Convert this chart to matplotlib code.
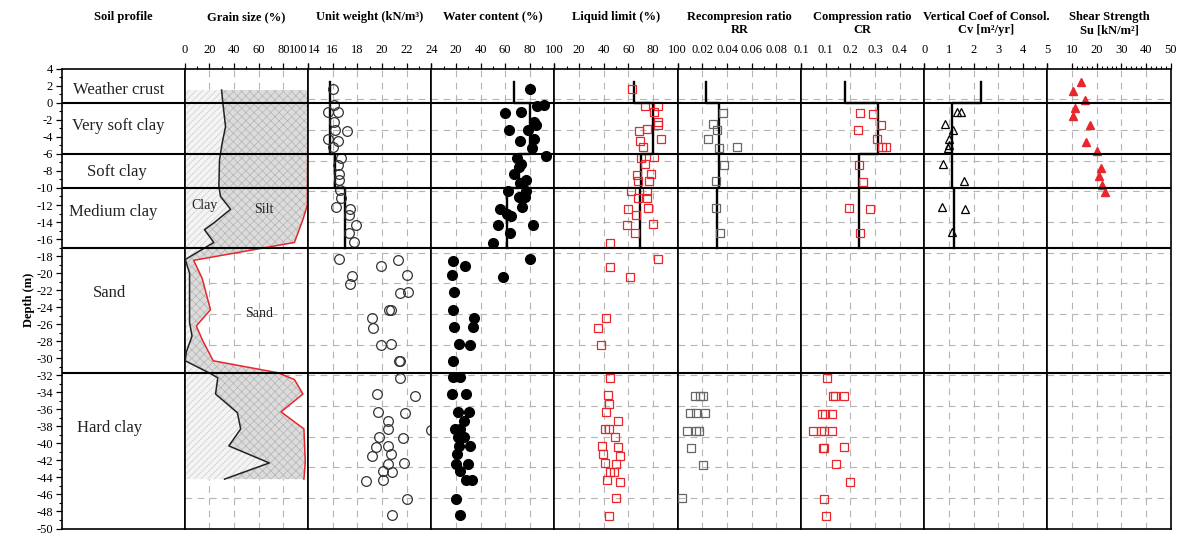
import matplotlib
matplotlib.use("Agg")
import matplotlib.pyplot as plt
import numpy as np

plt.rcParams["font.family"] = ["Liberation Serif", "DejaVu Serif"]
plt.rcParams["axes.unicode_minus"] = False
plt.rcParams["hatch.linewidth"] = 0.5

# --- Soil profile ---------------------------------------------------------
LAYER_NAMES = ["Weather crust", "Very soft clay", "Soft clay", "Medium clay", "Sand", "Hard clay"]
LAYER_LABEL_DEPTH = [1.5, -2.7, -8.1, -12.8, -22.3, -38.2]
LAYER_BOUNDS = [0, -6, -10, -17, -31.7]

# layer means drawn as step lines (top 4 layers)
MEAN_TOP = [2.5, 0, -6, -10]
MEAN_BOT = [0, -6, -10, -17]

# --- Grain size (cumulative %) ---------------------------------------------
CLAY_DEPTH = [1.5, 0, -2.8, -4.7, -6.7, -9.8, -11.0, -12.5, -14.1, -14.9, -16.4,
              -18.4, -20.0, -25.8, -27.4, -29.3, -30.3, -31.8, -32.3, -34.2, -36.4,
              -38.3, -40.3, -42.3, -44.2]
CLAY_PCT = [29.9, 30.9, 33.1, 30.4, 28.2, 27.7, 29.0, 37.2, 23.6, 16.0, 23.6,
            0.4, 3.9, 3.9, 5.9, 1.2, 0.4, 20.9, 26.8, 25.0, 42.7,
            45.4, 35.8, 68.6, 32.3]
FINES_DEPTH = [1.5, -12.0, -13.7, -16.4, -18.5, -20.6, -24.3, -26.2, -27.8, -30.3,
               -31.7, -32.5, -34.2, -36.3, -38.3, -42.2, -44.2]
FINES_PCT = [100, 99.5, 95.9, 89.0, 7.2, 14.1, 20.9, 9.4, 14.1, 23.1,
             75.4, 89.0, 95.9, 78.1, 96.7, 97.8, 96.7]

# --- Unit weight (kN/m3) ----------------------------------------------------
UW_DEPTH = [1.6, -0.2, -1.1, -1.1, -2.3, -3.2, -3.3, -4.3, -4.5, -5.2, -6.5, -7.3,
            -8.3, -9.1, -10.2, -11.2, -12.2, -12.5, -13.2, -14.4, -15.3, -16.4,
            -18.3, -18.5, -19.2, -20.2, -20.3, -21.3, -22.3, -22.2, -24.3, -24.3,
            -25.3, -26.4, -28.5, -28.3, -30.3, -30.3, -32.3, -34.2, -34.4, -36.3,
            -36.4, -37.4, -38.3, -38.4, -39.2, -39.4, -40.4, -40.3, -41.3, -41.5,
            -42.3, -42.4, -43.3, -43.4, -44.4, -44.3, -46.5, -48.4]
UW = [16.0, 16.1, 15.6, 16.4, 16.1, 16.2, 17.2, 15.6, 16.4, 16.0, 16.7, 16.4,
      16.5, 16.5, 16.6, 16.7, 16.3, 17.4, 17.3, 17.9, 17.3, 17.7,
      16.5, 21.3, 19.9, 22.0, 17.6, 17.4, 21.5, 22.1, 20.6, 20.7,
      19.2, 19.3, 19.9, 20.7, 21.5, 21.4, 21.5, 19.6, 22.7, 19.7,
      21.9, 20.5, 20.5, 24.0, 19.8, 21.7, 19.5, 20.5, 20.7, 19.2,
      21.8, 20.5, 20.1, 20.8, 18.7, 20.1, 22.0, 20.8]
UW_MEAN = [15.8, 15.8, 16.2, 17.0]

# --- Water content (%) ------------------------------------------------------
WC_DEPTH = [1.6, -0.4, -0.2, -1.2, -1.1, -2.2, -2.6, -3.2, -3.2, -4.5, -4.3, -5.3,
            -6.3, -6.5, -7.2, -7.5, -8.4, -9.1, -9.4, -10.4, -10.3, -11.1, -11.1,
            -12.2, -12.5, -13.1, -13.3, -14.4, -14.3, -15.3, -16.5,
            -18.3, -18.6, -19.2, -20.2, -20.4, -22.2, -24.3, -25.3, -26.3, -26.3,
            -28.3, -28.4, -30.3, -32.2, -32.2, -34.2, -34.2, -36.3, -36.3, -37.4,
            -38.3, -38.3, -39.3, -39.3, -40.3, -40.3, -41.3, -42.4, -42.4, -43.3,
            -44.3, -44.3, -46.5, -48.4]
WC = [80.0, 85.9, 91.4, 59.9, 72.9, 83.7, 85.3, 62.9, 78.9, 72.3, 83.7, 81.6,
      93.2, 69.6, 72.9, 71.5, 66.9, 77.0, 72.3, 62.0, 77.0, 71.5, 76.1,
      73.4, 56.1, 61.5, 64.7, 53.9, 82.4, 64.2, 49.8,
      80.5, 17.8, 27.8, 16.7, 58.5, 18.6, 17.3, 34.6, 18.1, 33.5,
      22.6, 31.1, 17.8, 17.8, 23.5, 16.7, 28.3, 21.8, 30.8, 26.2,
      19.1, 23.5, 21.8, 26.2, 22.6, 31.1, 21.3, 20.0, 29.7, 23.5,
      28.3, 32.7, 20.5, 23.5]
WC_MEAN = [67.4, 80.0, 71.5, 61.5]

# --- Liquid limit (%) -------------------------------------------------------
LL_DEPTH = [1.6, -0.35, -0.35, -1.1, -2.3, -2.6, -3.1, -3.3, -4.3, -4.5, -5.2,
            -6.4, -6.5, -7.2, -8.3, -8.5, -9.2, -9.2, -10.4, -10.3, -11.2, -11.2,
            -12.3, -12.5, -13.2, -14.4, -14.2, -15.3, -16.5,
            -18.3, -19.3, -20.4, -25.3, -26.4, -28.4, -32.3, -34.3, -35.4, -36.3,
            -37.4, -38.3, -38.3, -39.2, -40.3, -40.4, -41.3, -41.5, -42.3, -42.4,
            -43.4, -43.4, -44.3, -44.5, -46.4, -48.5]
LL = [62.6, 73.3, 83.6, 80.8, 83.6, 84.4, 74.7, 68.7, 86.8, 69.3, 71.5,
      80.8, 70.1, 73.3, 78.2, 66.6, 76.8, 67.9, 62.0, 74.7, 67.9, 74.7,
      76.0, 59.8, 66.0, 58.8, 80.0, 65.2, 45.3,
      83.6, 45.0, 61.4, 41.8, 35.1, 37.8, 45.0, 43.7, 44.5, 41.8,
      51.3, 41.2, 44.0, 49.3, 38.3, 51.3, 39.6, 53.4, 41.0, 49.9,
      45.3, 48.0, 42.6, 53.4, 49.9, 44.0]
LL_MEAN = [64.7, 80.0, 70.1, 69.5]

# --- Recompression ratio RR -------------------------------------------------
RR_DEPTH = [-1.2, -2.5, -3.2, -4.3, -5.3, -5.2, -7.3, -9.2, -12.4, -15.3,
            -34.4, -34.4, -34.4, -36.4, -36.4, -36.4, -38.5, -38.5, -38.5,
            -40.6, -42.5, -46.4]
RR = [0.0367, 0.0289, 0.0316, 0.0246, 0.0335, 0.0483, 0.0375, 0.0313, 0.0308, 0.0343,
      0.0140, 0.0180, 0.0208, 0.0100, 0.0146, 0.0219, 0.0078, 0.0151, 0.0173,
      0.0111, 0.0205, 0.0032]
RR_MEAN = [0.0227, 0.0335, 0.0335, 0.0316]

# --- Compression ratio CR ---------------------------------------------------
CR_DEPTH = [-1.2, -1.3, -2.6, -3.2, -4.3, -5.2, -5.2, -7.3, -9.3, -12.4, -12.5, -15.3,
            -32.3, -34.4, -34.4, -34.4, -36.5, -36.5, -36.5, -38.5, -38.5, -38.5,
            -38.5, -40.5, -40.5, -40.4, -42.4, -44.5, -46.5, -48.5]
CR = [0.240, 0.291, 0.325, 0.230, 0.308, 0.328, 0.346, 0.237, 0.251, 0.196, 0.280, 0.240,
      0.106, 0.129, 0.139, 0.174, 0.085, 0.099, 0.125, 0.048, 0.081, 0.095,
      0.125, 0.088, 0.092, 0.174, 0.142, 0.200, 0.095, 0.102]
CR_MEAN = [0.179, 0.312, 0.234, 0.234]

# --- Coefficient of consolidation Cv (m2/yr) --------------------------------
CV_DEPTH = [-1.1, -1.1, -2.5, -3.2, -4.3, -5.0, -5.3, -7.2, -9.2, -12.2, -12.5, -15.2]
CV = [1.35, 1.49, 0.85, 1.15, 1.01, 0.99, 0.95, 0.75, 1.60, 0.72, 1.66, 1.12]
CV_MEAN = [2.3, 1.11, 1.11, 1.19]

# --- Undrained shear strength Su (kN/m2) ------------------------------------
SU_DEPTH = [2.5, 1.4, 0.35, -0.55, -1.5, -2.6, -4.6, -5.6, -7.6, -8.6, -9.6, -10.5]
SU = [13.7, 10.3, 15.4, 11.0, 10.5, 17.2, 15.7, 19.9, 21.8, 20.8, 22.2, 23.5]

# --- Panel headers ----------------------------------------------------------
HEADERS = ["Soil profile", "Grain size (%)", "Unit weight (kN/m\u00b3)", "Water content (%)",
           "Liquid limit (%)", "Recompresion ratio\nRR", "Compression ratio\nCR",
           "Vertical Coef of Consol.\nCv [m\u00b2/yr]", "Shear Strength\nSu [kN/m\u00b2]"]

RED = "#e8262b"
GRID = "#b5b5b5"

W, H = 1182, 536
fig = plt.figure(figsize=(W / 100, H / 100), dpi=100)

left_px, right_px = 61.5, 1170.7
top_px, bot_px = 68.8, 528.5
pw = (right_px - left_px) / 9

axes = []
for i in range(9):
    ax = fig.add_axes([(left_px + i * pw) / W, (H - bot_px) / H, pw / W, (bot_px - top_px) / H],
                      sharey=axes[0] if axes else None)
    axes.append(ax)

axes[0].set_ylim(-50, 4)


def setup_panel(ax, lim, major, minor, labels):
    ax.set_xlim(*lim)
    ax.xaxis.tick_top()
    ax.set_xticks(major)
    ax.set_xticklabels(labels)
    ax.set_xticks(minor, minor=True)
    ax.tick_params(axis="x", which="major", direction="out", length=4, width=0.9,
                   pad=5, labelsize=9)
    ax.tick_params(axis="x", which="minor", direction="out", length=2.5, width=0.8)
    ax.tick_params(axis="y", left=False, labelleft=False, which="both")
    # dashed grid
    for x in major[1:-1]:
        ax.axvline(x, color=GRID, lw=0.8, ls=(0, (6, 5)), zorder=0)
    for y in np.linspace(-50, 4, 16)[1:-1]:
        ax.axhline(y, color=GRID, lw=0.8, ls=(0, (6, 5)), zorder=0)


def mean_line(ax, means):
    xs, ys = [], []
    for m, t, b in zip(means, MEAN_TOP, MEAN_BOT):
        xs += [m, m]
        ys += [t, b]
    ax.plot(xs, ys, color="black", lw=1.7, zorder=3)


# profile panel
ax0 = axes[0]
ax0.set_xlim(0, 1)
ax0.set_xticks([])
ax0.set_yticks(np.arange(-50, 5, 2))
ax0.set_yticks(np.arange(-50, 5, 1), minor=True)
ax0.tick_params(axis="y", which="major", direction="out", length=4, width=0.9, labelsize=9, pad=2)
ax0.tick_params(axis="y", which="minor", direction="out", length=2.5, width=0.8)
label_x = [0.46, 0.46, 0.45, 0.42, 0.39, 0.39]
for name, d, lx in zip(LAYER_NAMES, LAYER_LABEL_DEPTH, label_x):
    ax0.text(lx, d, name, ha="center", va="center", fontsize=12, color="#222222")

# grain size
ax = axes[1]
setup_panel(ax, (0, 100), [0, 20, 40, 60, 80, 100], [10, 30, 50, 70, 90],
            ["0", "20", "40", "60", "80", "100"])
ax.xaxis.get_major_ticks()[-1].label2.set_ha("right")
ax.fill([0] + CLAY_PCT + [0], [CLAY_DEPTH[0]] + CLAY_DEPTH + [CLAY_DEPTH[-1]],
        facecolor="#f4f4f4", edgecolor="#cdcdcd", hatch="/////", lw=0, zorder=1)
ax.fill(CLAY_PCT + FINES_PCT[::-1], CLAY_DEPTH + FINES_DEPTH[::-1],
        facecolor="#dcdcdc", edgecolor="#b4b4b4", hatch="xxxx", lw=0, zorder=1)
ax.plot(CLAY_PCT, CLAY_DEPTH, color="#222222", lw=1.1, zorder=3)
ax.plot(FINES_PCT, FINES_DEPTH, color=RED, lw=1.1, zorder=3)
ax.text(16, -12.1, "Clay", ha="center", va="center", fontsize=10, color="#222222", zorder=4)
ax.text(64, -12.5, "Silt", ha="center", va="center", fontsize=10, color="#222222", zorder=4)
ax.text(60, -24.7, "Sand", ha="center", va="center", fontsize=10, color="#222222", zorder=4)

# unit weight
ax = axes[2]
setup_panel(ax, (14, 24), [14, 16, 18, 20, 22, 24], [15, 17, 19, 21, 23],
            ["14", "16", "18", "20", "22", "24"])
ax.xaxis.get_major_ticks()[0].label2.set_ha("left")
ax.plot(UW, UW_DEPTH, ls="none", marker="o", mfc="none", mec="#333333", ms=7, mew=0.9, zorder=4)
mean_line(ax, UW_MEAN)

# water content
ax = axes[3]
setup_panel(ax, (0, 100), [0, 20, 40, 60, 80, 100], [10, 30, 50, 70, 90],
            ["", "20", "40", "60", "80", "100"])
ax.plot(WC, WC_DEPTH, ls="none", marker="o", color="black", ms=7, zorder=4)
mean_line(ax, WC_MEAN)

# liquid limit
ax = axes[4]
setup_panel(ax, (0, 100), [0, 20, 40, 60, 80, 100], [10, 30, 50, 70, 90],
            ["", "20", "40", "60", "80", "100"])
ax.plot(LL, LL_DEPTH, ls="none", marker="s", mfc="none", mec=RED, ms=6, mew=0.9, zorder=4)
mean_line(ax, LL_MEAN)

# recompression ratio
ax = axes[5]
setup_panel(ax, (0, 0.1), [0, 0.02, 0.04, 0.06, 0.08, 0.1], [0.01, 0.03, 0.05, 0.07, 0.09],
            ["", "0.02", "0.04", "0.06", "0.08", "0.1"])
ax.plot(RR, RR_DEPTH, ls="none", marker="s", mfc="none", mec="#666666", ms=6, mew=0.9, zorder=4)
mean_line(ax, RR_MEAN)

# compression ratio
ax = axes[6]
setup_panel(ax, (0, 0.5), [0, 0.1, 0.2, 0.3, 0.4, 0.5], [0.05, 0.15, 0.25, 0.35, 0.45],
            ["", "0.1", "0.2", "0.3", "0.4", ""])
ax.plot(CR, CR_DEPTH, ls="none", marker="s", mfc="none", mec=RED, ms=6, mew=0.9, zorder=4)
mean_line(ax, CR_MEAN)

# Cv
ax = axes[7]
setup_panel(ax, (0, 5), [0, 1, 2, 3, 4, 5], [0.5, 1.5, 2.5, 3.5, 4.5],
            ["0", "1", "2", "3", "4", "5"])
ax.plot(CV, CV_DEPTH, ls="none", marker="^", mfc="none", mec="black", ms=6, mew=0.9, zorder=4)
mean_line(ax, CV_MEAN)

# Su
ax = axes[8]
setup_panel(ax, (0, 50), [0, 10, 20, 30, 40, 50], [v for v in range(12, 50, 2) if v % 10],
            ["", "10", "20", "30", "40", "50"])
ax.plot(SU, SU_DEPTH, ls="none", marker="^", color=RED, ms=6, zorder=4)

# frames and layer boundaries
for ax in axes:
    for sp in ax.spines.values():
        sp.set_linewidth(1.2)
        sp.set_color("black")
    for b in LAYER_BOUNDS:
        ax.axhline(b, color="black", lw=1.5, zorder=5)

# headers
for i, text in enumerate(HEADERS):
    cx = (left_px + (i + 0.5) * pw) / W
    fig.text(cx, 1 - 11 / H, text, ha="center", va="top", fontsize=9,
             fontweight="bold", linespacing=1.15)

fig.text(29 / W, 1 - 300 / H, "Depth (m)", rotation=90, ha="center", va="center",
         fontsize=9, fontweight="bold")

fig.savefig("out.png", dpi=100)
